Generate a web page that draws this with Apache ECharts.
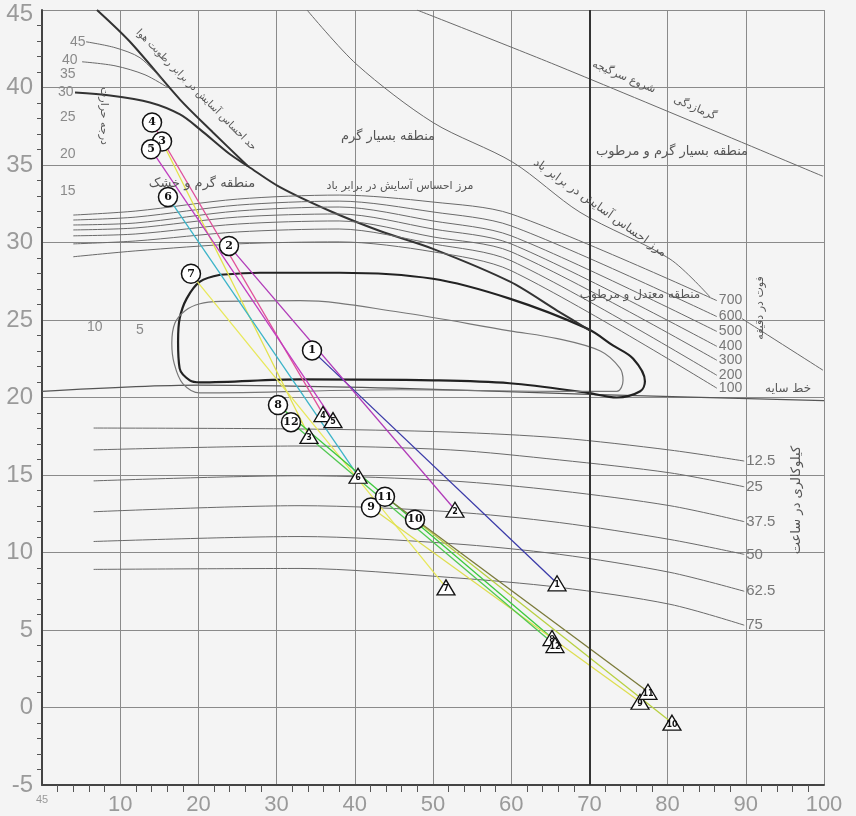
<!DOCTYPE html>
<html>
<head>
<meta charset="utf-8">
<script src="https://cdn.jsdelivr.net/npm/echarts@6/dist/echarts.min.js"></script>
<style>
  html, body { margin: 0; padding: 0; background: #f4f4f4; }
  #chart { width: 856px; height: 816px; }
</style>
</head>
<body>
<div id="chart"></div>
<script>
// axis tick labels
var xTickLabels = ['45', '10', '20', '30', '40', '50', '60', '70', '80', '90', '100'];

// comfort zone (heavy) and winter comfort zone (thin)
var comfortRH = [22.8, 27.9, 38.1, 50.0, 59.8, 69.7, 73.0, 75.6, 77.1, 76.5, 73.5, 69.8, 59.8, 50.0, 33.0, 20.2, 18.9, 17.6, 17.4, 17.6, 18.5, 20.2, 22.8];
var comfortT  = [27.92, 28.05, 28.05, 27.66, 26.38, 24.45, 23.36, 22.5, 21.05, 20.4, 20.0, 20.3, 20.92, 21.11, 21.17, 20.98, 21.11, 21.88, 23.61, 25.09, 26.38, 27.47, 27.92];
var innerRH = [22.8, 33.0, 45.8, 59.8, 65.9, 71.4, 73.9, 74.3, 73.5, 66.2, 45.8, 20.2, 18.0, 16.9, 16.6, 17.0, 18.3, 20.2, 22.8];
var innerT  = [26.2, 26.25, 25.5, 24.3, 23.8, 23.0, 21.9, 21.1, 20.4, 20.4, 20.5, 20.3, 20.9, 22.2, 23.5, 24.8, 25.6, 26.05, 26.2];

// shade line
var shadeRH = [0, 20, 45, 70, 100];
var shadeT  = [20.4, 20.8, 20.6, 20.2, 19.8];

// wind lines (ft/min)
var windNames = ['700', '600', '500', '400', '300', '200', '100'];
var windRH = [4, 12, 25, 38, 50, 60, 86.3];
var windT = [
  [31.77, 32.03, 32.80, 33.06, 32.61, 31.84, 26.25],
  [31.45, 31.64, 32.41, 32.67, 31.97, 31.07, 25.22],
  [31.13, 31.26, 32.03, 32.29, 31.39, 30.43, 24.26],
  [30.81, 30.94, 31.64, 31.84, 30.87, 29.91, 23.30],
  [30.43, 30.55, 31.19, 31.39, 30.36, 29.40, 22.40],
  [29.91, 30.10, 30.68, 30.87, 29.91, 28.82, 21.43],
  [29.08, 29.46, 29.91, 30.04, 29.40, 28.18, 20.60]
];

// radiation lines (kcal/h)
var radNames = ['12.5', '25', '37.5', '50', '62.5', '75'];
var radRH = [6.6, 33.0, 52.2, 66.2, 80.3, 89.8];
var radT = [
  [18.03, 17.97, 17.77, 17.39, 16.61, 15.90],
  [16.62, 16.87, 16.62, 15.97, 15.14, 14.24],
  [14.62, 14.95, 14.62, 13.98, 13.02, 11.99],
  [12.63, 13.02, 12.63, 11.93, 10.84, 9.88],
  [10.71, 11.03, 10.58, 9.88, 8.72, 7.50],
  [8.91, 8.97, 8.39, 7.75, 6.66, 5.31]
];

// upper boundary curves
var upperRH = [4.22, 8.70, 13.81, 17.65, 20.20, 24.04, 26.34, 30.43, 36.83, 43.22, 50.0, 59.85, 65.86, 70.08];
var upperT  = [39.67, 39.48, 39.03, 38.26, 37.30, 35.69, 34.92, 33.57, 32.03, 30.74, 29.59, 27.47, 25.61, 24.32];
var humidRH = [7.03, 11.25, 17.65, 21.87, 26.34];
var humidT  = [45.0, 42.95, 39.22, 37.10, 34.92];
var c45RH = [5.63, 9.34, 12.53, 15.35];
var c45T  = [42.95, 42.57, 41.92, 40.50];
var c40RH = [5.12, 9.34, 13.17, 16.11];
var c40T  = [41.66, 41.40, 40.82, 39.99];
var windBoundRH = [33.89, 40.28, 50.0, 60.23, 68.80, 80.31, 85.42];
var windBoundT  = [45.0, 41.47, 37.74, 35.17, 31.95, 28.93, 26.49];
var windBound2RH = [89.51, 99.87];
var windBound2T  = [25.09, 21.76];
var heatRH = [47.95, 66.24, 99.87];
var heatT  = [45.0, 41.34, 34.27];

// monthly data: circle = (min RH, max T), triangle = (max RH, min T)
var monthNames = ['1', '2', '3', '4', '5', '6', '7', '8', '9', '10', '11', '12'];
var circleRH = [34.53, 23.91, 15.35, 14.07, 13.94, 16.11, 19.05, 30.18, 42.07, 47.70, 43.86, 31.84];
var circleT  = [23.04, 29.78, 36.52, 37.74, 36.01, 32.93, 27.98, 19.51, 12.90, 12.12, 13.60, 18.41];
var triRH = [65.86, 52.81, 34.14, 35.93, 37.21, 40.41, 51.66, 65.22, 76.47, 80.56, 77.49, 65.60];
var triT  = [8.01, 12.76, 17.52, 18.93, 18.54, 14.95, 7.75, 4.48, 0.37, -0.98, 1.01, 4.03];
var monthColors = ['#3a3aa8', '#b03ab8', '#e2e24a', '#e0509a', '#c03cc0', '#3cb4c8',
                   '#e8e85a', '#3cc83c', '#dede50', '#b8d040', '#7a7a3a', '#50c850'];

function pts(xs, ys) {
    return xs.map(function (x, i) { return [x, ys[i]]; });
}

var thin = { color: '#6a6a6a', width: 1 };
var heavy = { color: '#333', width: 2 };

function curve(data, style, smooth) {
    return {
        type: 'line', data: data, symbol: 'none', smooth: smooth || 0.3,
        lineStyle: style, silent: true, z: 3
    };
}

var series = [];

series.push(Object.assign(curve(pts(shadeRH, shadeT), { color: '#555', width: 1.2 }), {
    markLine: {
        silent: true, symbol: 'none', label: { show: false },
        lineStyle: { color: '#333', width: 2, type: 'solid' },
        data: [{ xAxis: 70 }]
    }
}));
series.push(curve(pts(comfortRH, comfortT), { color: '#222', width: 2.2 }, 0.35));
series.push(curve(pts(innerRH, innerT), { color: '#777', width: 1.2 }, 0.35));
series.push(curve(pts(upperRH, upperT), heavy));
series.push(curve(pts(humidRH, humidT), heavy));
series.push(curve(pts(c45RH, c45T), thin));
series.push(curve(pts(c40RH, c40T), thin));
series.push(curve(pts(windBoundRH, windBoundT), thin));
series.push(curve(pts(windBound2RH, windBound2T), thin));
series.push(curve(pts(heatRH, heatT), thin));

windNames.forEach(function (n, i) {
    var s = curve(pts(windRH, windT[i]), thin);
    s.endLabel = { show: true, formatter: n, color: '#777', fontSize: 14, distance: 2,
                   fontFamily: 'Liberation Sans' };
    series.push(s);
});
radNames.forEach(function (n, i) {
    var s = curve(pts(radRH, radT[i]), thin);
    s.endLabel = { show: true, formatter: n, color: '#777', fontSize: 15, distance: 2,
                   fontFamily: 'Liberation Sans' };
    series.push(s);
});

monthNames.forEach(function (n, i) {
    series.push({
        type: 'line', symbol: 'none', silent: true, z: 4,
        data: [[circleRH[i], circleT[i]], [triRH[i], triT[i]]],
        lineStyle: { color: monthColors[i], width: 1.3 }
    });
});

series.push({
    type: 'scatter', z: 6, symbol: 'circle', symbolSize: 19,
    data: pts(circleRH, circleT),
    itemStyle: { color: '#fff', borderColor: '#111', borderWidth: 1.5, opacity: 1 },
    label: {
        show: true, position: 'inside', color: '#111', fontSize: 11, fontWeight: 'bold',
        fontFamily: 'DejaVu Serif',
        formatter: function (p) { return monthNames[p.dataIndex]; }
    }
});
series.push({
    type: 'scatter', z: 6, symbol: 'triangle', symbolSize: [18, 15],
    data: pts(triRH, triT),
    itemStyle: { color: '#fff', borderColor: '#111', borderWidth: 1.3, opacity: 1 },
    label: {
        show: true, position: 'inside', color: '#111', fontSize: 8, fontWeight: 'bold',
        offset: [0, 2], fontFamily: 'DejaVu Sans',
        formatter: function (p) { return monthNames[p.dataIndex]; }
    }
});

var fa = "'DejaVu Sans', sans-serif";
function txt(text, x, y, size, rot, color) {
    return {
        type: 'text', x: x, y: y, rotation: rot || 0, z: 10, silent: true,
        style: {
            text: text, fill: color || '#555', font: size + 'px ' + fa,
            align: 'center', verticalAlign: 'middle'
        }
    };
}
function num(text, x, y) {
    return {
        type: 'text', x: x, y: y, z: 10, silent: true,
        style: { text: text, fill: '#8a8a8a', font: "14px 'Liberation Sans'",
                 align: 'left', verticalAlign: 'middle' }
    };
}

var graphics = [
    txt('منطقه بسیار گرم', 388, 137, 13),
    txt('مرز احساس آسایش در برابر باد', 400, 186, 11),
    txt('منطقه گرم و خشک', 202, 184, 13),
    txt('حد احساس آسایش در برابر رطوبت هوا', 196, 90, 10, -0.79),
    txt('درجه حرارت', 104, 116, 11, -Math.PI / 2),
    txt('شروع سرگیجه', 624, 77, 11, -0.40),
    txt('گرمازدگی', 695, 108, 11, -0.40),
    txt('منطقه بسیار گرم و مرطوب', 672, 152, 13),
    txt('مرز احساس آسایش در برابر باد', 600, 208, 12, -0.62),
    txt('منطقه معتدل و مرطوب', 640, 295, 12),
    txt('فوت در دقیقه', 760, 308, 11, Math.PI / 2),
    txt('خط سایه', 788, 389, 12),
    txt('کیلوکالری در ساعت', 797, 500, 13, Math.PI / 2),
    num('45', 70, 42), num('40', 62, 60), num('35', 60, 74), num('30', 58, 92),
    num('25', 60, 117), num('20', 60, 154), num('15', 60, 191),
    num('10', 87, 327), num('5', 136, 330)
];

var chart = echarts.init(document.getElementById('chart'));
chart.setOption({
    backgroundColor: '#f4f4f4',
    animation: false,
    grid: { left: 42, right: 32, top: 10, bottom: 28 },
    xAxis: {
        type: 'value', min: 0, max: 100, interval: 10,
        axisLine: { onZero: false, lineStyle: { color: '#444', width: 2 } },
        axisTick: { show: false },
        minorTick: { show: true, splitNumber: 5, length: 7, lineStyle: { color: '#555' } },
        axisLabel: {
            inside: false, margin: 9, color: '#9a9a9a', fontSize: 22,
            fontFamily: 'Liberation Sans',
            formatter: function (v) {
                var s = xTickLabels[Math.round(v / 10)];
                return v === 0 ? '{s|' + s + '}' : s;
            },
            rich: { s: { fontSize: 11, color: '#9a9a9a' } }
        },
        splitLine: { show: true, lineStyle: { color: '#8a8a8a', width: 1 } }
    },
    yAxis: {
        type: 'value', min: -5, max: 45, interval: 5,
        axisLine: { onZero: false, lineStyle: { color: '#444', width: 2 } },
        axisTick: { show: false },
        minorTick: { show: true, splitNumber: 5, length: 5, lineStyle: { color: '#555' } },
        axisLabel: {
            margin: 9, color: '#9a9a9a', fontSize: 24, fontFamily: 'Liberation Sans',
            formatter: function (v) { return v === 45 ? '{t|45}' : String(v); },
            rich: { t: { fontSize: 24, color: '#9a9a9a', fontFamily: 'Liberation Sans', padding: [8, 0, 0, 0] } }
        },
        splitLine: { show: true, lineStyle: { color: '#8a8a8a', width: 1 } }
    },
    graphic: graphics,
    series: series
});
</script>
</body>
</html>
